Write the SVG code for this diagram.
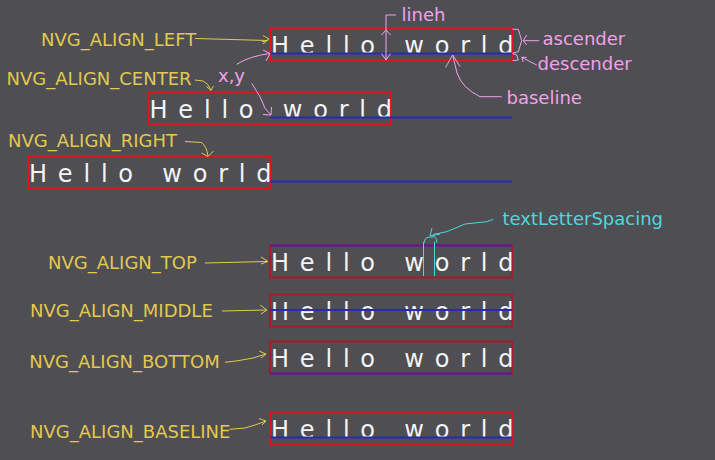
<svg xmlns="http://www.w3.org/2000/svg" width="715" height="460" viewBox="0 0 715 460">
<style>
.hw{font-family:"DejaVu Sans","Liberation Sans",sans-serif;font-size:24px;letter-spacing:10.8px;fill:#f4f4f4}
.box{fill:none;stroke:#e3121b;stroke-width:2}
.boxd{fill:none;stroke:#a31d28;stroke-width:2}
.bl{stroke:#2a2ab0;stroke-width:2}
.pl{stroke:#561aa0;stroke-width:2}
.lbl{font-family:"DejaVu Sans","Liberation Sans",sans-serif;font-size:18px}
.y{fill:#e2c94f}
.p{fill:#f2a2ea}
.c{fill:#52d6de}
.ya{fill:none;stroke:#e2c94f;stroke-width:1}
.pa{fill:none;stroke:#f2a2ea;stroke-width:1}
.ca{fill:none;stroke:#52d6de;stroke-width:1}
</style>
<rect x="0" y="0" width="715" height="460" fill="#4e4e53"/>

<g id="row-left">
<rect class="box" x="270" y="28.5" width="242" height="32"/>
<text class="hw" x="271" y="53.5">Hello world</text>
<line class="bl" x1="270" y1="53.5" x2="512" y2="53.5"/>
</g>
<g id="row-center">
<rect class="box" x="148.5" y="92.5" width="242" height="32"/>
<text class="hw" x="149.5" y="117.5">Hello world</text>
<line class="bl" x1="270" y1="117.5" x2="512" y2="117.5"/>
</g>
<g id="row-right">
<rect class="box" x="28" y="156.5" width="242" height="32"/>
<text class="hw" x="29" y="181.5">Hello world</text>
<line class="bl" x1="270" y1="181.5" x2="512" y2="181.5"/>
</g>
<g id="row-top">
<rect class="boxd" x="270" y="245.5" width="242" height="32"/>
<text class="hw" x="271" y="270.5">Hello world</text>
<line class="pl" x1="270" y1="245.5" x2="512" y2="245.5"/>
</g>
<g id="row-middle">
<rect class="boxd" x="270" y="294.5" width="242" height="32"/>
<text class="hw" x="271" y="319.5">Hello world</text>
<line class="bl" x1="270" y1="310" x2="512" y2="310"/>
</g>
<g id="row-bottom">
<rect class="boxd" x="270" y="341.5" width="242" height="32"/>
<text class="hw" x="271" y="366.5">Hello world</text>
<line class="pl" x1="270" y1="373.5" x2="512" y2="373.5"/>
</g>
<g id="row-baseline">
<rect class="box" x="270" y="412.5" width="242" height="32" style="stroke:#d8161f"/>
<text class="hw" x="271" y="437.5">Hello world</text>
<line class="bl" x1="270" y1="437.5" x2="512" y2="437.5"/>
</g>

<g id="labels">
<text class="lbl y" x="41" y="46">NVG_ALIGN_LEFT</text>
<text class="lbl y" x="6.5" y="85">NVG_ALIGN_CENTER</text>
<text class="lbl y" x="8" y="146.5">NVG_ALIGN_RIGHT</text>
<text class="lbl y" x="48" y="268.5">NVG_ALIGN_TOP</text>
<text class="lbl y" x="30" y="316.5">NVG_ALIGN_MIDDLE</text>
<text class="lbl y" x="29.3" y="368.3">NVG_ALIGN_BOTTOM</text>
<text class="lbl y" x="30" y="438.3">NVG_ALIGN_BASELINE</text>
<text class="lbl p" x="218" y="81.5">x,y</text>
<text class="lbl p" x="401.5" y="20.5">lineh</text>
<text class="lbl p" x="542.5" y="45">ascender</text>
<text class="lbl p" x="537.5" y="70">descender</text>
<text class="lbl p" x="506.5" y="104">baseline</text>
<text class="lbl c" x="502.5" y="225">textLetterSpacing</text>
</g>

<g id="connectors">
<path class="ya" d="M195,38.5 L267,40.5 M263,35.5 L269,39 L263,44 M262,42 L268,40"/>
<path class="ya" d="M195,80 L203,81 Q208,83 211,90 M206.5,86.5 L211,90.5 L213.5,86"/>
<path class="ya" d="M185,141.5 L201.5,142.5 Q206.5,146 208,156 M201.5,153 L208,156.5 L213.5,151"/>
<path class="ya" d="M205,263 L267,261.5 M261,257 L268,261.5 L261,264"/>
<path class="ya" d="M222,311 L266,310 M260,305 L267,310 L261,314"/>
<path class="ya" d="M225,362.3 L238,360.7 L253,358 L266,354 M259,351 L266,354 L261,358"/>
<path class="ya" d="M229.5,429.3 L245,428 L255,425 L266,421 M259,418.5 L266,421 L262,425"/>
<path class="pa" d="M236.7,64.3 Q250,56 270,53.5 M263,50 L270,53.5 L266,61"/>
<path class="pa" d="M251.7,83.3 L260,96.7 L265,108.3 L271,115 M263,114.5 L271,115 L271.5,107"/>
<path class="pa" d="M396,15 L386,15 L386,60 M381.5,35 L386,30 L390.5,35 M381.5,53.5 L386,60 L390.5,53.5"/>
<path class="pa" d="M512.5,29.3 L518.3,29.3 L520,35 L521.7,40.7 L520,46 L518.3,51.7 L512.5,53.3 M539.3,40.7 L523.3,40.7 M526.7,35 L523.3,40.7 L526.7,45"/>
<path class="pa" d="M512.5,53.5 L516.7,55 L518.3,60 L512.5,60.7 M536.7,65 L521.7,57.3 M523.3,62 L521.7,57.3 L526.7,57.3"/>
<path class="pa" d="M501.7,96.7 L480,96.7 Q462,88 457,73 L452.7,55 M445.5,67.5 L452.7,55 L460,66.5"/>
<path class="ca" d="M423.5,241.7 L423.5,276 M434.5,241.7 L434.5,276"/>
<path class="ca" d="M424.3,242.7 L425,239.3 L427.7,237.3 L434.3,236.7 L436.7,239.3 L436.7,242.7"/>
<path class="ca" d="M493.3,219.3 L486.7,221.7 L465,224 L446.7,231.7 L433,234.5 M432,228 L430,236 L440,234"/>
</g>
</svg>
